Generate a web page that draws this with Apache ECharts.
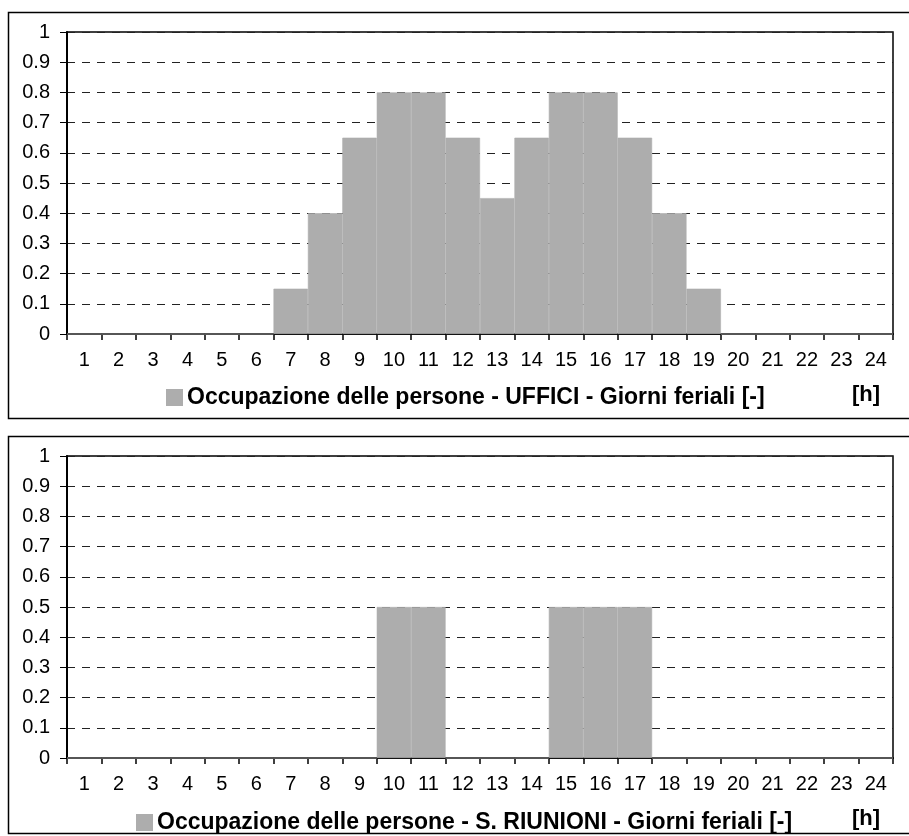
<!DOCTYPE html>
<html><head><meta charset="utf-8">
<script src="https://cdn.jsdelivr.net/npm/echarts@6/dist/echarts.min.js"></script>
<style>html,body{margin:0;padding:0;background:#fff}#c{width:909px;height:836px}</style>
</head><body><div id="c"></div>
<script>
var hours = ['1','2','3','4','5','6','7','8','9','10','11','12','13','14','15','16','17','18','19','20','21','22','23','24'];
var yTicks = [0,0.1,0.2,0.3,0.4,0.5,0.6,0.7,0.8,0.9,1];
var uffici = [0,0,0,0,0,0,0.15,0.4,0.65,0.8,0.8,0.65,0.45,0.65,0.8,0.8,0.65,0.4,0.15,0,0,0,0,0];
var riunioni = [0,0,0,0,0,0,0,0,0,0.5,0.5,0,0,0,0.5,0.5,0.5,0,0,0,0,0,0,0];
var name1 = 'Occupazione delle persone - UFFICI - Giorni feriali [-]';
var name2 = 'Occupazione delle persone - S. RIUNIONI - Giorni feriali [-]';
var unitLabel = '[h]';

var FONT = 'Liberation Sans';
var chart = echarts.init(document.getElementById('c'), null, {renderer:'canvas'});
function xAx(i){return {type:'category',gridIndex:i,data:hours,boundaryGap:true,
  axisLine:{lineStyle:{color:'#000',width:2}},
  axisTick:{show:true,alignWithLabel:false,length:6,lineStyle:{color:'#000',width:1.5}},
  axisLabel:{show:true,color:'#000',fontFamily:FONT,fontSize:20,margin:16,interval:0,hideOverlap:false},splitLine:{show:false}};}
function yAx(i){return {type:'value',gridIndex:i,min:0,max:1,interval:0.1,
  axisLine:{show:true,lineStyle:{color:'#000',width:2}},
  axisTick:{show:true,length:7,lineStyle:{color:'#000',width:1}},
  axisLabel:{show:true,color:'#000',fontFamily:FONT,fontSize:20,margin:17,hideOverlap:false,
    formatter:function(v){return String(Math.round(v*10)/10);}},
  splitLine:{show:true,lineStyle:{color:'#222',type:[8,7],width:1}}};}
var barStyle = {color:'#adadad',borderColor:'#adadad',borderWidth:0.6};
chart.setOption({
  animation:false,
  textStyle:{fontFamily:FONT,fontSize:20,color:'#000'},
  grid:[{left:67,top:32,width:826,height:302,show:true,borderColor:'#000',borderWidth:1.5},
        {left:67,top:456,width:826,height:302,show:true,borderColor:'#000',borderWidth:1.5}],
  xAxis:[xAx(0),xAx(1)],
  yAxis:[yAx(0),yAx(1)],
  legend:[{data:[{name:name1,icon:'rect'}],left:161,top:381,itemWidth:15,itemHeight:15,itemGap:8,
           textStyle:{fontFamily:FONT,fontSize:23,fontWeight:'bold',color:'#000'}},
          {data:[{name:name2,icon:'rect'}],left:131,top:806,itemWidth:15,itemHeight:15,itemGap:8,
           textStyle:{fontFamily:FONT,fontSize:23,fontWeight:'bold',color:'#000'}}],
  series:[{name:name1,type:'bar',xAxisIndex:0,yAxisIndex:0,data:uffici,barCategoryGap:'0%',itemStyle:barStyle},
          {name:name2,type:'bar',xAxisIndex:1,yAxisIndex:1,data:riunioni,barCategoryGap:'0%',itemStyle:barStyle}],
  graphic:[
    {type:'rect',shape:{x:8.5,y:12.5,width:1000,height:406},style:{fill:null,stroke:'#000',lineWidth:1.5},z:-1},
    {type:'rect',shape:{x:8.5,y:436.5,width:1000,height:397},style:{fill:null,stroke:'#000',lineWidth:1.5},z:-1},
    {type:'text',right:29,top:384,style:{text:unitLabel,font:'bold 22px '+FONT,fill:'#000'}},
    {type:'text',right:29,top:808,style:{text:unitLabel,font:'bold 22px '+FONT,fill:'#000'}}
  ]
});
</script></body></html>
